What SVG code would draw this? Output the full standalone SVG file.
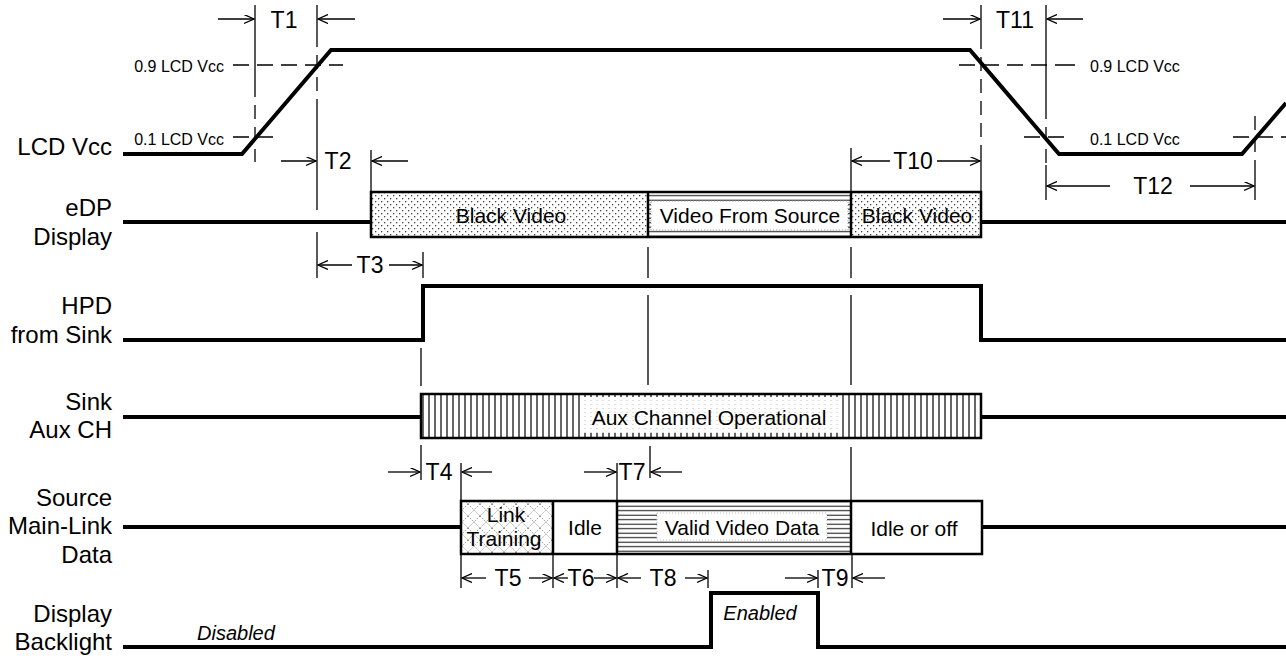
<svg xmlns="http://www.w3.org/2000/svg" width="1286" height="664" viewBox="0 0 1286 664">
<defs>
<style>
.sig{fill:none;stroke:#000;stroke-width:4;stroke-linejoin:miter}
.box{stroke:#000;stroke-width:2.5}
.div{stroke:#000;stroke-width:2.5}
.thin{stroke:#000;stroke-width:1.3;fill:none}
.dash{stroke:#000;stroke-width:1.3;fill:none;stroke-dasharray:16 8}
.arr{stroke:#000;stroke-width:1.3;fill:none;marker-end:url(#ah)}
.lbl{font-family:"Liberation Sans",Arial,sans-serif;font-size:24px;fill:#000;text-anchor:end}
.t{font-family:"Liberation Sans",Arial,sans-serif;font-size:23px;fill:#000;text-anchor:middle}
.in{font-family:"Liberation Sans",Arial,sans-serif;font-size:21px;fill:#000;text-anchor:middle}
.sm{font-family:"Liberation Sans",Arial,sans-serif;font-size:16px;fill:#000}
.it{font-family:"Liberation Sans",Arial,sans-serif;font-size:20px;font-style:italic;fill:#000}
</style>
<marker id="ah" markerWidth="11" markerHeight="10" refX="10" refY="4.5" orient="auto" markerUnits="userSpaceOnUse">
<path d="M0,0 L10,4.5 L0,9" fill="none" stroke="#000" stroke-width="1.3"/>
</marker>
<pattern id="dots" width="6" height="6" patternUnits="userSpaceOnUse">
<rect width="6" height="6" fill="#fff"/>
<rect x="0" y="0" width="1.3" height="1.3" fill="#444"/>
<rect x="3" y="3" width="1.3" height="1.3" fill="#444"/>
</pattern>
<pattern id="vhatch" width="6" height="6" patternUnits="userSpaceOnUse">
<rect width="6" height="6" fill="#fff"/>
<line x1="3" y1="0" x2="3" y2="6" stroke="#000" stroke-width="1.2"/>
</pattern>
<pattern id="hhatch" width="6" height="4.5" patternUnits="userSpaceOnUse">
<rect width="6" height="4.5" fill="#fff"/>
<line x1="0" y1="2.2" x2="6" y2="2.2" stroke="#222" stroke-width="1.1"/>
</pattern>
<pattern id="xhatch" width="12" height="12" patternUnits="userSpaceOnUse">
<rect width="12" height="12" fill="#fff"/>
<path d="M0,0 L12,12 M12,0 L0,12" stroke="#999" stroke-width="1" stroke-dasharray="1.5 1.5"/>
</pattern>
<pattern id="faint" width="6" height="4" patternUnits="userSpaceOnUse">
<rect width="6" height="4" fill="#fff"/>
<rect x="2.5" y="0" width="1" height="1" fill="#bbb"/>
</pattern>
</defs>

<g id="labels">
<text class="lbl" x="112" y="155">LCD Vcc</text>
<text class="lbl" x="112" y="216">eDP</text>
<text class="lbl" x="112" y="245">Display</text>
<text class="lbl" x="112" y="314">HPD</text>
<text class="lbl" x="112" y="343">from Sink</text>
<text class="lbl" x="112" y="410">Sink</text>
<text class="lbl" x="112" y="438">Aux CH</text>
<text class="lbl" x="112" y="506">Source</text>
<text class="lbl" x="112" y="534">Main-Link</text>
<text class="lbl" x="112" y="563">Data</text>
<text class="lbl" x="112" y="622">Display</text>
<text class="lbl" x="112" y="650">Backlight</text>
</g>

<g id="lcd-vcc">
<polyline class="sig" points="123,154 242,154 331,50 970,50 1059,154 1242,154 1286,103"/>
<line class="dash" x1="233" y1="65" x2="343" y2="65"/>
<line class="dash" x1="233" y1="137" x2="278" y2="137"/>
<line class="dash" x1="959" y1="65" x2="1082" y2="65" style="stroke-dasharray:16 8 16 8 16 8 16 8 20"/>
<line class="dash" x1="1024" y1="137" x2="1070" y2="137"/>
<line class="dash" x1="1233" y1="137" x2="1286" y2="137"/>
<text class="sm" x="224" y="72" text-anchor="end">0.9 LCD Vcc</text>
<text class="sm" x="224" y="145" text-anchor="end">0.1 LCD Vcc</text>
<text class="sm" x="1090" y="72">0.9 LCD Vcc</text>
<text class="sm" x="1090" y="145">0.1 LCD Vcc</text>
</g>

<g id="edp-display">
<line class="sig" x1="123" y1="222" x2="371" y2="222"/>
<line class="sig" x1="981" y1="222" x2="1286" y2="222"/>
<rect x="371" y="192" width="277" height="45" fill="url(#dots)"/>
<rect x="851" y="192" width="130" height="45" fill="url(#dots)"/>
<rect x="648" y="192" width="203" height="45" fill="url(#hhatch)"/>
<rect x="651" y="201" width="197" height="29" fill="#fff" stroke="#999" stroke-width="1" stroke-dasharray="1 2"/>
<rect class="box" x="371" y="192" width="610" height="45" fill="none"/>
<line class="div" x1="648" y1="192" x2="648" y2="237"/>
<line class="div" x1="851" y1="192" x2="851" y2="237"/>
<text class="in" x="511" y="223">Black Video</text>
<text class="in" x="750" y="223">Video From Source</text>
<text class="in" x="917" y="223">Black Video</text>
</g>

<g id="hpd">
<polyline class="sig" points="123,340 423,340 423,286 981,286 981,340 1286,340"/>
</g>

<g id="aux-ch">
<line class="sig" x1="123" y1="417" x2="421" y2="417"/>
<line class="sig" x1="981" y1="417" x2="1286" y2="417"/>
<rect x="421" y="394" width="560" height="44" fill="url(#vhatch)"/>
<rect x="580" y="397" width="260" height="36" fill="url(#faint)"/>
<rect class="box" x="421" y="394" width="560" height="44" fill="none"/>
<text class="in" x="709" y="425">Aux Channel Operational</text>
</g>

<g id="source-main-link">
<line class="sig" x1="123" y1="527" x2="461" y2="527"/>
<line class="sig" x1="982" y1="527" x2="1286" y2="527"/>
<rect x="461" y="501" width="92" height="53" fill="url(#xhatch)"/>
<rect x="553" y="501" width="64" height="53" fill="#fff"/>
<rect x="617" y="501" width="234" height="53" fill="url(#hhatch)"/>
<rect x="657" y="513" width="170" height="27" fill="#fff" stroke="#bbb" stroke-width="1" stroke-dasharray="1 2"/>
<rect x="851" y="501" width="131" height="53" fill="#fff"/>
<rect class="box" x="461" y="501" width="521" height="53" fill="none"/>
<line class="div" x1="553" y1="501" x2="553" y2="554"/>
<line class="div" x1="617" y1="501" x2="617" y2="554"/>
<line class="div" x1="851" y1="501" x2="851" y2="554"/>
<text class="in" x="506" y="522">Link</text>
<text class="in" x="504" y="546">Training</text>
<text class="in" x="585" y="535">Idle</text>
<text class="in" x="742" y="535">Valid Video Data</text>
<text class="in" x="914" y="536">Idle or off</text>
</g>

<g id="backlight">
<polyline class="sig" points="123,647 711,647 711,593 818,593 818,647 1286,647"/>
<text class="it" x="197" y="640">Disabled</text>
<text class="it" x="760" y="620" text-anchor="middle">Enabled</text>
</g>

<g id="connectors">
<line class="thin" x1="255" y1="5" x2="255" y2="83"/>
<line class="dash" x1="255" y1="83" x2="255" y2="162" style="stroke-dasharray:14 8"/>
<line class="thin" x1="317" y1="5" x2="317" y2="33"/>
<line class="dash" x1="317" y1="33" x2="317" y2="100" style="stroke-dasharray:14 8"/>
<line class="thin" x1="317" y1="100" x2="317" y2="210"/>
<line class="thin" x1="317" y1="232" x2="317" y2="278"/>
<line class="thin" x1="371" y1="150" x2="371" y2="192"/>
<line class="thin" x1="981" y1="5" x2="981" y2="35"/>
<line class="dash" x1="981" y1="35" x2="981" y2="150" style="stroke-dasharray:14 8"/>
<line class="thin" x1="981" y1="150" x2="981" y2="192"/>
<line class="thin" x1="851" y1="148" x2="851" y2="192"/>
<line class="thin" x1="1046" y1="5" x2="1046" y2="105"/>
<line class="dash" x1="1046" y1="105" x2="1046" y2="165" style="stroke-dasharray:14 8"/>
<line class="thin" x1="1046" y1="165" x2="1046" y2="200"/>
<line class="dash" x1="1255" y1="116" x2="1255" y2="165" style="stroke-dasharray:14 8"/>
<line class="thin" x1="1255" y1="165" x2="1255" y2="200"/>
<line class="thin" x1="423" y1="252" x2="423" y2="278"/>
<line class="thin" x1="648" y1="247" x2="648" y2="278"/>
<line class="thin" x1="648" y1="295" x2="648" y2="385"/>
<line class="thin" x1="851" y1="247" x2="851" y2="278"/>
<line class="thin" x1="851" y1="295" x2="851" y2="385"/>
<line class="thin" x1="421" y1="348" x2="421" y2="386"/>
<line class="thin" x1="421" y1="445" x2="421" y2="480"/>
<line class="thin" x1="461" y1="463" x2="461" y2="501"/>
<line class="thin" x1="617" y1="463" x2="617" y2="501"/>
<line class="thin" x1="650" y1="446" x2="650" y2="478"/>
<line class="thin" x1="851" y1="447" x2="851" y2="501"/>
<line class="thin" x1="461" y1="554" x2="461" y2="588"/>
<line class="thin" x1="553" y1="554" x2="553" y2="588"/>
<line class="thin" x1="617" y1="554" x2="617" y2="588"/>
<line class="thin" x1="708" y1="570" x2="708" y2="588"/>
<line class="thin" x1="818" y1="570" x2="818" y2="588"/>
<line class="thin" x1="852" y1="554" x2="852" y2="588"/>
<line class="arr" x1="218" y1="19" x2="254" y2="19"/>
<line class="arr" x1="355" y1="19" x2="318" y2="19"/>
<text class="t" x="284" y="28">T1</text>
<line class="arr" x1="281" y1="161" x2="316" y2="161"/>
<line class="arr" x1="408" y1="161" x2="372" y2="161"/>
<text class="t" x="338" y="169">T2</text>
<line class="arr" x1="890" y1="161" x2="852" y2="161"/>
<line class="arr" x1="937" y1="161" x2="980" y2="161"/>
<text class="t" x="913" y="169">T10</text>
<line class="arr" x1="943" y1="19" x2="980" y2="19"/>
<line class="arr" x1="1083" y1="19" x2="1047" y2="19"/>
<text class="t" x="1015" y="28">T11</text>
<line class="arr" x1="1110" y1="186" x2="1047" y2="186"/>
<line class="arr" x1="1190" y1="186" x2="1254" y2="186"/>
<text class="t" x="1153" y="194">T12</text>
<line class="arr" x1="352" y1="265" x2="318" y2="265"/>
<line class="arr" x1="389" y1="265" x2="422" y2="265"/>
<text class="t" x="370" y="273">T3</text>
<line class="arr" x1="388" y1="472" x2="420" y2="472"/>
<line class="arr" x1="492" y1="472" x2="462" y2="472"/>
<text class="t" x="439" y="480">T4</text>
<line class="arr" x1="584" y1="472" x2="616" y2="472"/>
<line class="arr" x1="682" y1="472" x2="651" y2="472"/>
<text class="t" x="632" y="480">T7</text>
<line class="arr" x1="486" y1="578" x2="462" y2="578"/>
<line class="arr" x1="529" y1="578" x2="552" y2="578"/>
<text class="t" x="508" y="586">T5</text>
<line class="arr" x1="568" y1="578" x2="554" y2="578"/>
<line class="arr" x1="594" y1="578" x2="616" y2="578"/>
<text class="t" x="581" y="586">T6</text>
<line class="arr" x1="641" y1="578" x2="618" y2="578"/>
<line class="arr" x1="685" y1="578" x2="707" y2="578"/>
<text class="t" x="663" y="586">T8</text>
<line class="arr" x1="785" y1="578" x2="817" y2="578"/>
<line class="arr" x1="885" y1="578" x2="853" y2="578"/>
<text class="t" x="835" y="586">T9</text>
</g>
</svg>
